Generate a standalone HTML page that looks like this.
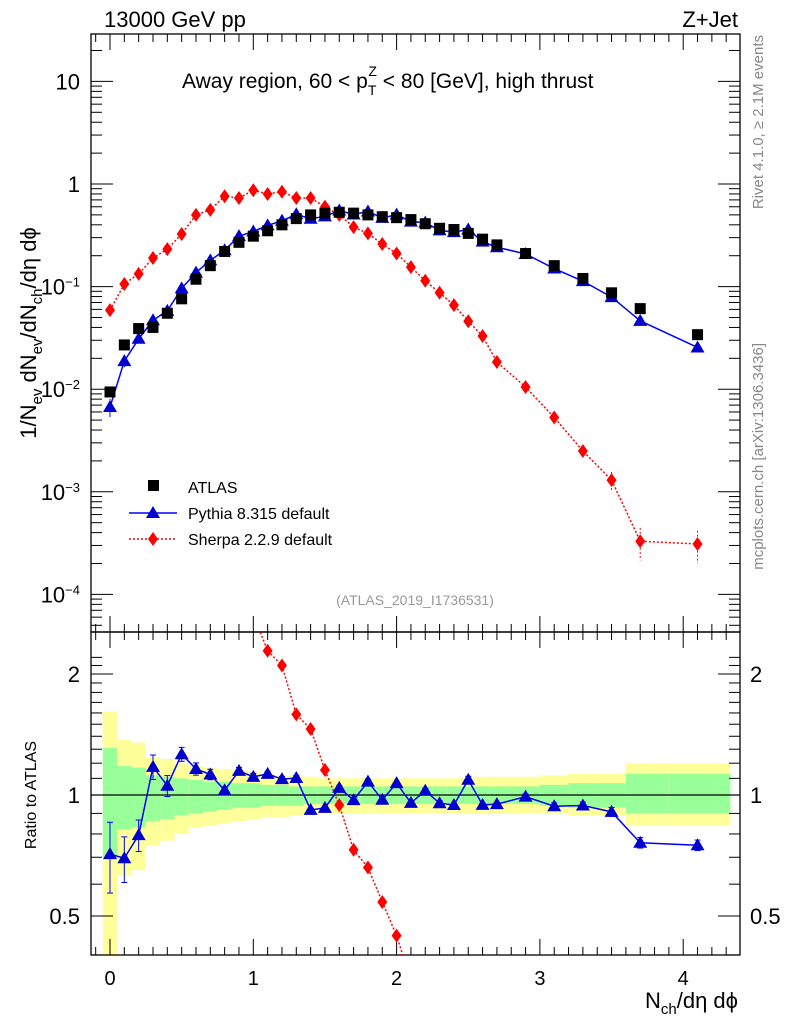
<!DOCTYPE html>
<html><head><meta charset="utf-8"><style>
html,body{margin:0;padding:0;background:#fff;width:786px;height:1024px;overflow:hidden;position:relative;}
svg{display:block;position:absolute;left:0;top:0;}
svg text{font-family:"Liberation Sans",sans-serif;}
</style></head><body>
<svg id="c" width="786" height="1024" xmlns="http://www.w3.org/2000/svg"></svg>
<script>
const xs=[0,0.1,0.2,0.3,0.4,0.5,0.6,0.7,0.8,0.9,1.0,1.1,1.2,1.3,1.4,1.5,1.6,1.7,1.8,1.9,2.0,2.1,2.2,2.3,2.4,2.5,2.6,2.7,2.9,3.1,3.3,3.5,3.7,4.1];
const atlas=[0.0094,0.027,0.039,0.040,0.055,0.076,0.118,0.16,0.22,0.27,0.31,0.35,0.40,0.46,0.50,0.52,0.53,0.52,0.50,0.48,0.47,0.45,0.41,0.37,0.36,0.33,0.29,0.255,0.21,0.16,0.12,0.087,0.061,0.034];
const pythia=[0.0067,0.0188,0.031,0.047,0.058,0.096,0.137,0.18,0.226,0.31,0.344,0.395,0.438,0.507,0.459,0.483,0.552,0.505,0.54,0.467,0.503,0.43,0.42,0.353,0.34,0.36,0.274,0.242,0.208,0.15,0.113,0.079,0.0464,0.0255];
const pythiaErr=[0.2,0.13,0.09,0.07,0.06,0.04,0.035,0.03,0.02,0.02,0.02,0.015,0.015,0.015,0.01,0.01,0.015,0.01,0.015,0.01,0.01,0.01,0.015,0.015,0.01,0.02,0.01,0.01,0.015,0.02,0.02,0.025,0.03,0.03];
const sherpa=[0.059,0.106,0.133,0.19,0.232,0.326,0.50,0.56,0.76,0.73,0.87,0.80,0.84,0.73,0.73,0.60,0.50,0.38,0.33,0.26,0.21,0.155,0.114,0.087,0.066,0.046,0.033,0.0184,0.0105,0.0053,0.0025,0.0013,0.00033,0.00031];
const sherpaErr=[0,0,0,0,0,0,0,0,0,0,0,0,0,0,0,0,0,0,0,0,0,0,0,0,0,0,0,0,0.05,0.08,0.12,0.2,0.35,0.35];
const yUp=[1.61,1.37,1.35,1.24,1.23,1.2,1.18,1.17,1.16,1.15,1.14,1.13,1.12,1.12,1.11,1.1,1.1,1.1,1.1,1.1,1.1,1.1,1.1,1.1,1.1,1.1,1.11,1.11,1.11,1.12,1.13,1.13,1.2,1.2];
const yLo=[0.3,0.63,0.65,0.75,0.77,0.8,0.83,0.84,0.85,0.86,0.87,0.88,0.88,0.89,0.89,0.9,0.9,0.9,0.9,0.9,0.9,0.9,0.9,0.9,0.9,0.9,0.9,0.9,0.9,0.9,0.89,0.89,0.84,0.84];
const gUp=[1.31,1.18,1.17,1.12,1.11,1.1,1.09,1.08,1.08,1.07,1.07,1.06,1.06,1.05,1.05,1.05,1.05,1.05,1.05,1.05,1.05,1.05,1.05,1.05,1.05,1.05,1.05,1.05,1.05,1.06,1.07,1.07,1.13,1.13];
const gLo=[0.70,0.82,0.83,0.86,0.87,0.89,0.9,0.91,0.92,0.93,0.93,0.94,0.94,0.94,0.95,0.95,0.95,0.95,0.95,0.95,0.95,0.95,0.95,0.95,0.95,0.95,0.95,0.95,0.95,0.94,0.93,0.93,0.9,0.9];
const xTicks=[0,1,2,3,4];
const yTicks=[10,1,0.1,0.01,0.001,0.0001];
const yTickLabels=["10","1","10<tspan dy='-8' font-size='13'>−1</tspan>","10<tspan dy='-8' font-size='13'>−2</tspan>","10<tspan dy='-8' font-size='13'>−3</tspan>","10<tspan dy='-8' font-size='13'>−4</tspan>"];
const rTicks=[0.5,1,2];

const L=91,R=740,T=34,MB=632,RB=955;
const X=v=>110+(v)*143.3;
const Y=v=>184-Math.log10(v)*102.6;
const RY=v=>795-Math.log2(v)*121;
const NS="http://www.w3.org/2000/svg";
const svg=document.getElementById('c');
function el(tag,attrs,parent){const e=document.createElementNS(NS,tag);for(const k in attrs)e.setAttribute(k,attrs[k]);(parent||svg).appendChild(e);return e;}
function clip(id,y0,y1){const d=el('defs',{});const c=el('clipPath',{id:id},d);el('rect',{x:L,y:y0,width:R-L,height:y1-y0},c);}
clip('cm',T,MB);clip('cr',MB,RB);

const gBand=el('g',{'clip-path':'url(#cr)'});


for(let i=0;i<xs.length;i++){
  const x0=i==0?xs[0]-0.05:(xs[i-1]+xs[i])/2;
  const x1=i==xs.length-1?4.33:(xs[i]+xs[i+1])/2;
  const yr=el('rect',{x:X(x0),y:RY(yUp[i]),width:X(x1)-X(x0),height:RY(yLo[i])-RY(yUp[i]),fill:'#ffff99'},gBand);
  
  
  const gr=el('rect',{x:X(x0),y:RY(gUp[i]),width:X(x1)-X(x0),height:RY(gLo[i])-RY(gUp[i]),fill:'#99ff99'},gBand);
  
  
}
el('line',{x1:L,x2:R,y1:RY(1),y2:RY(1),stroke:'#000','stroke-width':1.3});

el('rect',{x:L,y:T,width:R-L,height:MB-T,fill:'none',stroke:'#000','stroke-width':1.3});
el('rect',{x:L,y:MB,width:R-L,height:RB-MB,fill:'none',stroke:'#000','stroke-width':1.3});

for(let k=-1;k<=44;k++){
  const v=k/10,x=X(v);if(x<L||x>R)continue;
  const major=k%10==0,len=major?16:8;
  [[T,1],[MB,-1],[MB,1],[RB,-1]].forEach(([y,d])=>el('line',{x1:x,x2:x,y1:y,y2:y+d*len,stroke:'#000'}));
}
xTicks.forEach(v=>{const t=el('text',{x:X(v),y:985,'font-size':20,'text-anchor':'middle'});t.textContent=v;

});

for(let e=-5;e<=1;e++){for(let m=1;m<=9;m++){const v=m*Math.pow(10,e),y=Y(v);if(y<T||y>MB)continue;const len=m==1?22:11;
el('line',{x1:L,x2:L+len,y1:y,y2:y,stroke:'#000'});el('line',{x1:R,x2:R-len,y1:y,y2:y,stroke:'#000'});}}
yTicks.forEach((v,i)=>{const t=el('text',{x:80,y:Y(v)+8,'font-size':22,'text-anchor':'end'});t.innerHTML=yTickLabels[i];

});

for(let k=3;k<=22;k++){const v=k/10,y=RY(v);if(y<MB||y>RB)continue;const major=(k==5||k==10||k==20);const len=major?22:11;
el('line',{x1:L,x2:L+len,y1:y,y2:y,stroke:'#000'});el('line',{x1:R,x2:R-len,y1:y,y2:y,stroke:'#000'});}
rTicks.forEach(v=>{const t=el('text',{x:80,y:RY(v)+8,'font-size':22,'text-anchor':'end'});t.textContent=v;


const t2=el('text',{x:750,y:RY(v)+8,'font-size':22});t2.textContent=v;

});

function diamond(g,x,y,c){el('polygon',{points:`${x},${y-7} ${x+5},${y} ${x},${y+7} ${x-5},${y}`,fill:c},g);}
function tri(g,x,y,c){el('polygon',{points:`${x},${y-7} ${x+7},${y+5} ${x-7},${y+5}`,fill:c},g);}
const gm=el('g',{'clip-path':'url(#cm)'});
const sp=el('polyline',{points:xs.map((x,i)=>X(x)+','+Y(sherpa[i])).join(' '),fill:'none',stroke:'#f00','stroke-width':1.5,'stroke-dasharray':'2,2'},gm);


xs.forEach((x,i)=>{if(sherpaErr[i]>0){const v=sherpa[i],e=sherpaErr[i];el('line',{x1:X(x),x2:X(x),y1:Y(v*(1+e)),y2:Y(v*(1-e)),stroke:'#f00','stroke-dasharray':'2,2'},gm);}
diamond(gm,X(x),Y(sherpa[i]),'#f00');});
const pp=el('polyline',{points:xs.map((x,i)=>X(x)+','+Y(pythia[i])).join(' '),fill:'none',stroke:'#00f','stroke-width':1.5},gm);


xs.forEach((x,i)=>{const v=pythia[i],e=pythiaErr[i];el('line',{x1:X(x),x2:X(x),y1:Y(v*(1+e)),y2:Y(v*(1-e)),stroke:'#00f'},gm);tri(gm,X(x),Y(v),'#00c');});
xs.forEach((x,i)=>{const r=el('rect',{x:X(x)-5.5,y:Y(atlas[i])-5.5,width:11,height:11,fill:'#000'},gm);

});

const gr=el('g',{'clip-path':'url(#cr)'});
el('polyline',{points:xs.map((x,i)=>X(x)+','+RY(sherpa[i]/atlas[i])).join(' '),fill:'none',stroke:'#f00','stroke-width':1.5,'stroke-dasharray':'2,2'},gr);
xs.forEach((x,i)=>diamond(gr,X(x),RY(sherpa[i]/atlas[i]),'#f00'));
el('polyline',{points:xs.map((x,i)=>X(x)+','+RY(pythia[i]/atlas[i])).join(' '),fill:'none',stroke:'#00f','stroke-width':1.5},gr);
xs.forEach((x,i)=>{const r=pythia[i]/atlas[i],e=pythiaErr[i];const x0=X(x);
el('line',{x1:x0,x2:x0,y1:RY(r*(1+e)),y2:RY(r*(1-e)),stroke:'#00f'},gr);
el('line',{x1:x0-3,x2:x0+3,y1:RY(r*(1+e)),y2:RY(r*(1+e)),stroke:'#00f'},gr);
el('line',{x1:x0-3,x2:x0+3,y1:RY(r*(1-e)),y2:RY(r*(1-e)),stroke:'#00f'},gr);
tri(gr,x0,RY(r),'#00c');});
</script>
<svg width="786" height="1024" xmlns="http://www.w3.org/2000/svg">
<g font-family="Liberation Sans, sans-serif">
<text x="104" y="27" font-size="22">13000 GeV pp</text>
<text x="738" y="27" font-size="22" text-anchor="end">Z+Jet</text>
<text x="182" y="88" font-size="21">Away region, 60 &lt; p<tspan dy="7" font-size="14">T</tspan><tspan dx="-8" dy="-19" font-size="14">Z</tspan><tspan dy="12"> &lt; 80 [GeV], high thrust</tspan></text>
<text transform="translate(36,333) rotate(-90)" font-size="22" text-anchor="middle">1/N<tspan dy="6" font-size="15">ev</tspan><tspan dy="-6"> dN</tspan><tspan dy="6" font-size="15">ev</tspan><tspan dy="-6">/dN</tspan><tspan dy="6" font-size="15">ch</tspan><tspan dy="-6">/dη dϕ</tspan></text>
<text transform="translate(36,795) rotate(-90)" font-size="16" text-anchor="middle">Ratio to ATLAS</text>
<text x="738" y="1008" font-size="22" text-anchor="end">N<tspan dy="6" font-size="15">ch</tspan><tspan dy="-6">/dη dϕ</tspan></text>
<text transform="translate(763,35) rotate(-90)" font-size="15" fill="#888" text-anchor="end">Rivet 4.1.0, ≥ 2.1M events</text>
<text transform="translate(763,343) rotate(-90)" font-size="15" fill="#888" text-anchor="end">mcplots.cern.ch [arXiv:1306.3436]</text>
<text x="415" y="605" font-size="14" fill="#999" text-anchor="middle">(ATLAS_2019_I1736531)</text>
<g>
<rect x="148" y="480" width="11" height="11" fill="#000"/>
<text x="188" y="493" font-size="16">ATLAS</text>
<line x1="129" x2="177" y1="513" y2="513" stroke="#00f" stroke-width="1.5"/>
<polygon points="153,506 160,518 146,518" fill="#00c"/>
<text x="188" y="519" font-size="16">Pythia 8.315 default</text>
<line x1="129" x2="177" y1="539" y2="539" stroke="#f00" stroke-width="1.5" stroke-dasharray="2,2"/>
<polygon points="153,532 158,539 153,546 148,539" fill="#f00"/>
<text x="188" y="545" font-size="16">Sherpa 2.2.9 default</text>
</g>
</g>
</svg>
</body></html>
